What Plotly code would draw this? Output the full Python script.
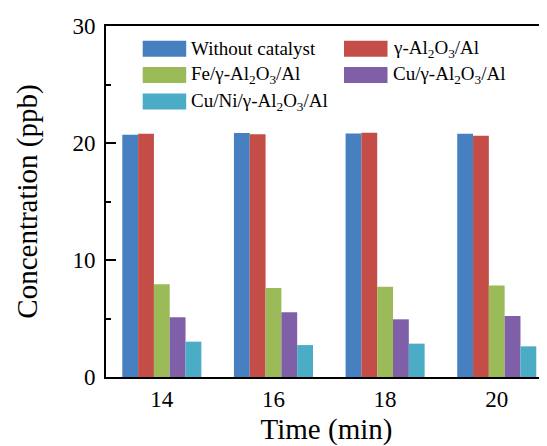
import plotly.graph_objects as go

times = [14, 16, 18, 20]
series_names = [
    "Without catalyst",
    "γ-Al<sub>2</sub>O<sub>3</sub>/Al",
    "Fe/γ-Al<sub>2</sub>O<sub>3</sub>/Al",
    "Cu/γ-Al<sub>2</sub>O<sub>3</sub>/Al",
    "Cu/Ni/γ-Al<sub>2</sub>O<sub>3</sub>/Al",
]
without_catalyst = [20.7, 20.85, 20.82, 20.8]
al2o3_al = [20.78, 20.75, 20.88, 20.63]
fe_al2o3_al = [7.92, 7.6, 7.72, 7.83]
cu_al2o3_al = [5.1, 5.53, 4.93, 5.21]
cuni_al2o3_al = [3.02, 2.73, 2.85, 2.62]
values = [without_catalyst, al2o3_al, fe_al2o3_al, cu_al2o3_al, cuni_al2o3_al]
colors = ["#4680C0", "#C44D48", "#9BBB59", "#7F60A8", "#4BACC6"]

OFF = 8  # page body margin
W, H = 547 - OFF, 446 - OFF
L, R, T, B = 106 - OFF, 0, 26 - OFF, 446 - 377
FONT = "Liberation Serif, Times New Roman, serif"

fig = go.Figure()
for name, vals, col in zip(series_names, values, colors):
    fig.add_trace(go.Bar(x=times, y=vals, name=name, marker=dict(color=col, line=dict(width=0)),
                         showlegend=False))

def px_x(p):
    return (p - OFF - L) / (W - L - R)

def px_y(p):
    return 1 - (p - OFF - T) / (H - T - B)

# manual legend (swatch rectangles + labels), positions in page pixels
legend_pos = [(142.7, 48.7), (344, 48.7), (142.7, 75), (344, 75), (142.7, 101.5)]
for (sx, sy), name, col in zip(legend_pos, series_names, colors):
    fig.add_shape(type="rect", xref="paper", yref="paper",
                  x0=px_x(sx), x1=px_x(sx + 43.5), y0=px_y(sy + 8), y1=px_y(sy - 8),
                  fillcolor=col, line=dict(width=0))
    fig.add_annotation(xref="paper", yref="paper", x=px_x(sx + 46.5), y=px_y(sy),
                       text=name, showarrow=False, xanchor="left", yanchor="middle",
                       font=dict(family=FONT, size=19, color="black"))

fig.update_layout(
    width=W, height=H,
    margin=dict(l=L, r=R, t=T, b=B, pad=0),
    paper_bgcolor="white", plot_bgcolor="white",
    barmode="group", bargap=0.292, bargroupgap=0,
    font=dict(family=FONT, color="black"),
)
fig.update_xaxes(
    range=[13, 20.9], tickvals=times, ticks="", showgrid=False, zeroline=False,
    showline=True, linecolor="black", linewidth=1.8, mirror=True,
    tickfont=dict(family=FONT, size=23, color="black"),
    title=dict(text="Time (min)", font=dict(family=FONT, size=29, color="black"), standoff=8),
)
fig.update_yaxes(
    range=[0, 30], tickvals=[0, 10, 20, 30], ticks="inside", ticklen=10, tickwidth=1.5,
    tickcolor="black", showgrid=False, zeroline=False, ticklabelstandoff=4,
    showline=True, linecolor="black", linewidth=1.8, mirror=False,
    minor=dict(tickvals=[5, 15, 25], ticks="inside", ticklen=5, tickwidth=1.5, tickcolor="black", showgrid=False),
    tickfont=dict(family=FONT, size=23, color="black"),
    title=dict(text="Concentration (ppb)", font=dict(family=FONT, size=29, color="black"), standoff=26),
)

fig.write_html("out.html")
